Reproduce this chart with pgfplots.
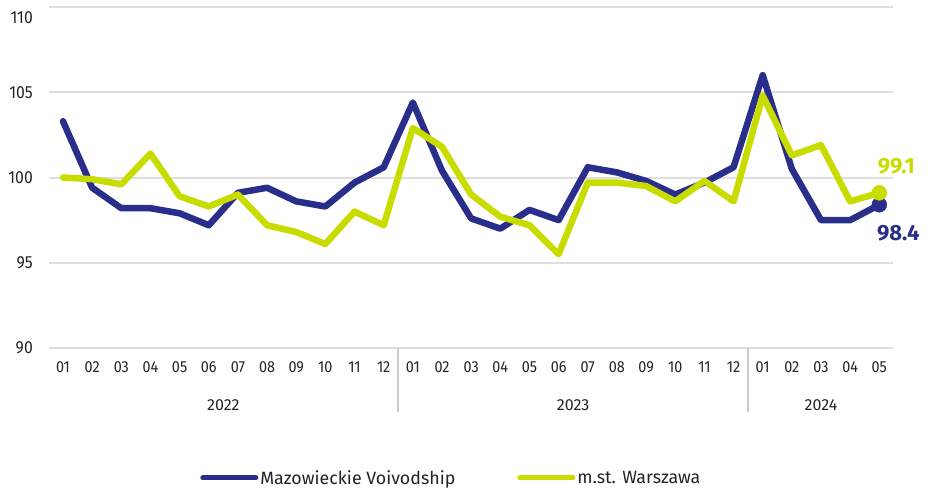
\documentclass[border=0pt]{standalone}
\usepackage{fontspec}
\setmainfont{Fira Sans}
\newfontfamily\narrowfont{Fira Sans}[FakeStretch=0.9]
\usepackage{pgfplots}
\pgfplotsset{compat=1.18}
\definecolor{mazblue}{RGB}{41,46,138}
\definecolor{wawgreen}{RGB}{200,220,0}
\definecolor{gridgray}{RGB}{222,222,222}
\definecolor{sepgray}{RGB}{205,205,205}
\definecolor{txtgray}{RGB}{35,35,35}
\begin{document}
\begin{tikzpicture}[x=1pt,y=1pt]
\useasboundingbox (0,0) rectangle (934,-492);
\begin{axis}[
  at={(49pt,-348pt)}, anchor=south west,
  width=844pt, height=341pt, scale only axis,
  xmin=-0.48, xmax=28.47, ymin=90, ymax=110,
  clip=false,
  axis line style={draw=none}, tick style={draw=none},
  ytick={90,95,100,105},
  extra y ticks={110},
  extra y tick style={grid=major, yticklabel style={yshift=-11pt}},
  ymajorgrids, grid style={gridgray, line width=2pt},
  /pgf/number format/assume math mode=true,
  every tick label/.append style={text=txtgray},
  yticklabel style={anchor=east, inner sep=0pt, xshift=-16pt, font=\narrowfont\fontsize{17.5}{17.5}\selectfont},
  xtick={0,...,28},
  xticklabels={01,02,03,04,05,06,07,08,09,10,11,12,01,02,03,04,05,06,07,08,09,10,11,12,01,02,03,04,05},
  xticklabel style={anchor=center, inner sep=0pt, yshift=-19pt, font=\narrowfont\fontsize{16}{16}\selectfont},
  legend style={at={(0.179,-0.381)}, anchor=west, draw=none, fill=none, inner sep=0pt,
    font=\fontsize{17.8}{17.8}\selectfont, text=txtgray, legend columns=2,
    /tikz/every even column/.append style={column sep=60pt}},
  legend cell align=left,
  legend image code/.code={\draw[#1, line width=5pt, line cap=round] (0pt,0pt) -- (53pt,0pt);},
]
\addplot[mazblue, line width=6.5pt, line join=round, line cap=round] coordinates {
(0,103.3) (1,99.4) (2,98.2) (3,98.2) (4,97.9) (5,97.2) (6,99.1) (7,99.4) (8,98.6) (9,98.3) (10,99.7) (11,100.6)
(12,104.4) (13,100.4) (14,97.6) (15,97.0) (16,98.1) (17,97.5) (18,100.6) (19,100.3) (20,99.8) (21,99.0) (22,99.7) (23,100.6)
(24,106.0) (25,100.5) (26,97.5) (27,97.5) (28,98.4)};
\addlegendentry{Mazowieckie Voivodship}
\addplot[wawgreen, line width=6.5pt, line join=round, line cap=round] coordinates {
(0,100.0) (1,99.9) (2,99.6) (3,101.4) (4,98.9) (5,98.3) (6,99.0) (7,97.2) (8,96.8) (9,96.1) (10,98.0) (11,97.2)
(12,102.9) (13,101.8) (14,99.0) (15,97.7) (16,97.2) (17,95.5) (18,99.7) (19,99.7) (20,99.5) (21,98.6) (22,99.8) (23,98.6)
(24,104.8) (25,101.3) (26,101.9) (27,98.6) (28,99.1)};
\addlegendentry{m.st. Warszawa}
\addplot[only marks, mark=*, mark size=7.5pt, mazblue, forget plot] coordinates {(28,98.4)};
\addplot[only marks, mark=*, mark size=7.5pt, wawgreen, forget plot] coordinates {(28,99.1)};
\node[font=\fontsize{22}{22}\selectfont\bfseries, text=wawgreen] at (axis cs:28,99.1) [xshift=17pt, yshift=27pt] {99.1};
\node[font=\fontsize{22}{22}\selectfont\bfseries, text=mazblue] at (axis cs:28,98.4) [xshift=19pt, yshift=-28pt] {98.4};
\draw[sepgray, line width=2pt] (axis cs:11.5,90) -- ++(0pt,-64pt);
\draw[sepgray, line width=2pt] (axis cs:23.5,90) -- ++(0pt,-64pt);
\node[font=\fontsize{16}{16}\selectfont, text=txtgray] at (axis cs:5.5,90) [yshift=-57pt] {2022};
\node[font=\fontsize{16}{16}\selectfont, text=txtgray] at (axis cs:17.5,90) [yshift=-57pt] {2023};
\node[font=\fontsize{16}{16}\selectfont, text=txtgray] at (axis cs:26,90) [yshift=-57pt] {2024};
\end{axis}
\end{tikzpicture}
\end{document}
